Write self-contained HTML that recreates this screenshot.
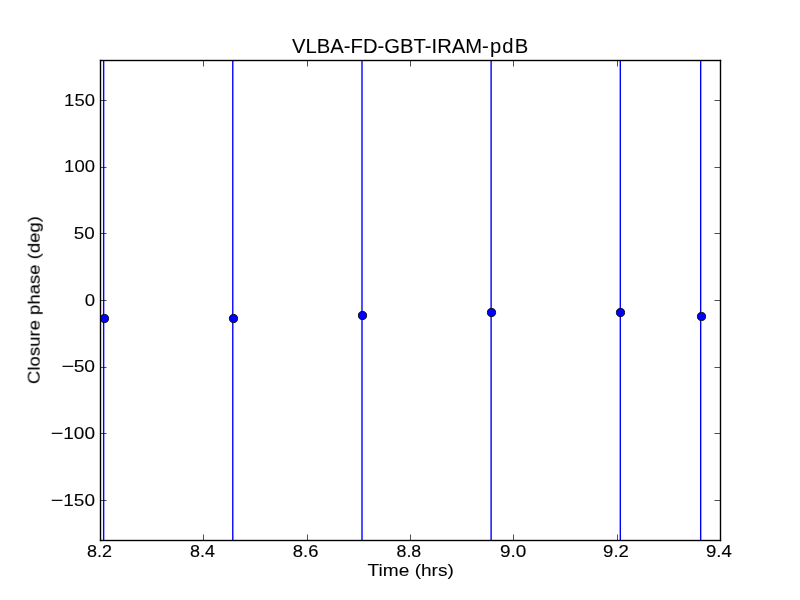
<!DOCTYPE html>
<html lang="en">
<head>
<meta charset="utf-8">
<title>VLBA-FD-GBT-IRAM-pdB</title>
<style>
html, body { margin:0; padding:0; background:#ffffff; }
body { width:800px; height:600px; overflow:hidden; position:relative;
       font-family:"Liberation Sans", sans-serif; color:#000000; }
#fig { position:absolute; left:0; top:0; width:800px; height:600px; background:#ffffff; overflow:hidden; }
svg.plot { position:absolute; left:0; top:0; display:block; }
.t { position:absolute; left:0; top:0; white-space:nowrap; line-height:1; margin:0; padding:0;
      font-family:"Liberation Sans", sans-serif; font-weight:400; color:#000000;
      transform-origin:0 0; will-change:transform; }
.mn { display:inline-block; transform-origin:0 50%; }
.title { -webkit-text-stroke:0.06px #000000; }
.lab { -webkit-text-stroke:0.07px #000000; }
.yt { -webkit-text-stroke:0.09px #000000; }
.xt { -webkit-text-stroke:0.14px #000000; }
</style>
</head>
<body>
<div id="fig">
<svg class="plot" width="800" height="600" viewBox="0 0 800 600">
<rect x="0" y="0" width="800" height="600" fill="#ffffff"/>
<defs><clipPath id="axclip"><rect x="100" y="60" width="620" height="480"/></clipPath></defs>
<g clip-path="url(#axclip)">
<line x1="103.65" y1="40" x2="103.65" y2="560" stroke="#0000ff" stroke-width="1.389"/>
<line x1="232.78" y1="40" x2="232.78" y2="560" stroke="#0000ff" stroke-width="1.389"/>
<line x1="362.0" y1="40" x2="362.0" y2="560" stroke="#0000ff" stroke-width="1.389"/>
<line x1="491.12" y1="40" x2="491.12" y2="560" stroke="#0000ff" stroke-width="1.389"/>
<line x1="620.3" y1="40" x2="620.3" y2="560" stroke="#0000ff" stroke-width="1.389"/>
<line x1="700.67" y1="40" x2="700.67" y2="560" stroke="#0000ff" stroke-width="1.389"/>
<circle cx="104.5" cy="318.5" r="4.1" fill="#0000ff" stroke="#000000" stroke-width="0.86"/>
<circle cx="233.5" cy="318.5" r="4.1" fill="#0000ff" stroke="#000000" stroke-width="0.86"/>
<circle cx="362.5" cy="315.5" r="4.1" fill="#0000ff" stroke="#000000" stroke-width="0.86"/>
<circle cx="491.5" cy="312.5" r="4.1" fill="#0000ff" stroke="#000000" stroke-width="0.86"/>
<circle cx="620.5" cy="312.5" r="4.1" fill="#0000ff" stroke="#000000" stroke-width="0.86"/>
<circle cx="701.5" cy="316.5" r="4.1" fill="#0000ff" stroke="#000000" stroke-width="0.86"/>
</g>
<g stroke="#000000" stroke-width="0.694" stroke-linecap="butt">
<line x1="100.5" y1="100.5" x2="106.5" y2="100.5"/>
<line x1="720.5" y1="100.5" x2="714.5" y2="100.5"/>
<line x1="100.5" y1="167.5" x2="106.5" y2="167.5"/>
<line x1="720.5" y1="167.5" x2="714.5" y2="167.5"/>
<line x1="100.5" y1="233.5" x2="106.5" y2="233.5"/>
<line x1="720.5" y1="233.5" x2="714.5" y2="233.5"/>
<line x1="100.5" y1="300.5" x2="106.5" y2="300.5"/>
<line x1="720.5" y1="300.5" x2="714.5" y2="300.5"/>
<line x1="100.5" y1="367.5" x2="106.5" y2="367.5"/>
<line x1="720.5" y1="367.5" x2="714.5" y2="367.5"/>
<line x1="100.5" y1="433.5" x2="106.5" y2="433.5"/>
<line x1="720.5" y1="433.5" x2="714.5" y2="433.5"/>
<line x1="100.5" y1="500.5" x2="106.5" y2="500.5"/>
<line x1="720.5" y1="500.5" x2="714.5" y2="500.5"/>
<line x1="203.5" y1="540.5" x2="203.5" y2="534.5"/>
<line x1="203.5" y1="60.5" x2="203.5" y2="66.5"/>
<line x1="307.5" y1="540.5" x2="307.5" y2="534.5"/>
<line x1="307.5" y1="60.5" x2="307.5" y2="66.5"/>
<line x1="410.5" y1="540.5" x2="410.5" y2="534.5"/>
<line x1="410.5" y1="60.5" x2="410.5" y2="66.5"/>
<line x1="513.5" y1="540.5" x2="513.5" y2="534.5"/>
<line x1="513.5" y1="60.5" x2="513.5" y2="66.5"/>
<line x1="617.5" y1="540.5" x2="617.5" y2="534.5"/>
<line x1="617.5" y1="60.5" x2="617.5" y2="66.5"/>
<line x1="100.5" y1="540.5" x2="100.5" y2="534.5"/>
<line x1="100.5" y1="60.5" x2="100.5" y2="66.5"/>
<line x1="720.5" y1="540.5" x2="720.5" y2="534.5"/>
<line x1="720.5" y1="60.5" x2="720.5" y2="66.5"/>
</g>
<g fill="#000000">
<rect x="99.8055" y="59.8055" width="1.389" height="481.3890"/>
<rect x="719.8055" y="59.8055" width="1.389" height="481.3890"/>
<rect x="99.8055" y="539.8055" width="621.3890" height="1.389"/>
<rect x="99.8055" y="59.8055" width="621.3890" height="1.389"/>
</g>
</svg>
<div class="t title" id="title" style="font-size:20px;transform:translate(292.09px,36.0px) scaleX(1.0119);">VLBA-FD-GBT-IRAM<span style="letter-spacing:1.1px">-pd</span>B</div>
<div class="t lab" id="xlabel" style="font-size:17px;transform:translate(367.62px,562.31px) scaleX(1.1228);">Time (hrs)</div>
<div class="t lab" id="ylabel" style="font-size:17px;transform:translate(25.67px,384.01px) rotate(-90deg) scaleX(1.0899);">Closure phase (deg)</div>
<div class="t yt" id="y150" style="font-size:17px;transform:translate(64.12px,92.0px) scaleX(1.0893);">150</div>
<div class="t yt" id="y100" style="font-size:17px;transform:translate(64.12px,158.0px) scaleX(1.0893);">100</div>
<div class="t yt" id="y50" style="font-size:17px;transform:translate(73.83px,225.0px) scaleX(1.1107);">50</div>
<div class="t yt" id="y0" style="font-size:17px;transform:translate(84.83px,292.0px) scaleX(1.0974);">0</div>
<div class="t yt" id="ym50" style="font-size:17px;transform:translate(62.38px,358.0px) scaleX(1.1326);"><span class="mn" style="transform:translate(-0.876px,-0.3px) scaleX(1.1394);">−</span>50</div>
<div class="t yt" id="ym100" style="font-size:17px;transform:translate(52.07px,425.0px) scaleX(1.1199);"><span class="mn" style="transform:translate(-1.19px,-0.3px) scaleX(1.1353);">−</span>100</div>
<div class="t yt" id="ym150" style="font-size:17px;transform:translate(52.07px,492.0px) scaleX(1.1199);"><span class="mn" style="transform:translate(-1.19px,-0.3px) scaleX(1.1353);">−</span>150</div>
<div class="t xt" id="x82" style="font-size:17px;transform:translate(87.03px,543.0px) scaleX(1.0546);">8.2</div>
<div class="t xt" id="x84" style="font-size:17px;transform:translate(190.07px,543.0px) scaleX(1.0534);">8.4</div>
<div class="t xt" id="x86" style="font-size:17px;transform:translate(292.87px,543.0px) scaleX(1.0834);">8.6</div>
<div class="t xt" id="x88" style="font-size:17px;transform:translate(396.5px,543.0px) scaleX(1.0463);">8.8</div>
<div class="t xt" id="x90" style="font-size:17px;transform:translate(500.03px,543.0px) scaleX(1.1143);">9.0</div>
<div class="t xt" id="x92" style="font-size:17px;transform:translate(603.12px,543.0px) scaleX(1.091);">9.2</div>
<div class="t xt" id="x94" style="font-size:17px;transform:translate(705.88px,543.0px) scaleX(1.0951);">9.4</div>
</div>
</body>
</html>
